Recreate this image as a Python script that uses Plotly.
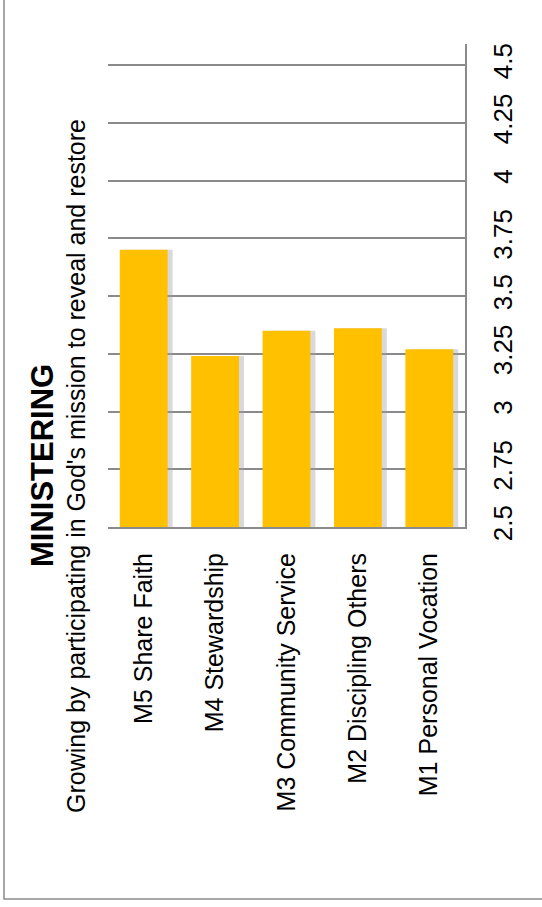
import plotly.graph_objects as go

# Ministering scores by component
categories = [
    "M5 Share Faith",
    "M4 Stewardship",
    "M3 Community Service",
    "M2 Discipling Others",
    "M1 Personal Vocation",
]
scores = [3.70, 3.24, 3.35, 3.36, 3.27]
tick_values = [2.5, 2.75, 3, 3.25, 3.5, 3.75, 4, 4.25, 4.5]
tick_labels = ["2.5", "2.75", "3", "3.25", "3.5", "3.75", "4", "4.25", "4.5"]

title_text = "MINISTERING"
subtitle_text = "Growing by participating in God's mission to reveal and restore"

FONT = "Liberation Sans, Arial, Helvetica, sans-serif"
BAR_COLOR = "#FFC000"
LINE_COLOR = "#8a8a8a"

W, H = 542, 907
L, R, T, B = 108, 77, 44, 380
plot_w = W - L - R
plot_h = H - T - B


def px_x(px):
    return (px - L) / plot_w


def px_y(py):
    return (H - B - py) / plot_h


bar_w = 0.67

fig = go.Figure()

# soft drop shadow on the right of each column
fig.add_trace(go.Bar(
    x=categories, y=scores,
    width=bar_w, offset=-bar_w / 2 + 0.07,
    marker=dict(color="rgba(160,160,170,0.4)", line=dict(width=0)),
    hoverinfo="skip", showlegend=False,
))
fig.add_trace(go.Bar(
    x=categories, y=scores,
    width=bar_w, offset=-bar_w / 2,
    marker=dict(color=BAR_COLOR, line=dict(width=0)),
    showlegend=False,
))

fig.update_layout(
    width=W, height=H,
    margin=dict(l=L, r=R, t=T, b=B, pad=0),
    paper_bgcolor="white",
    plot_bgcolor="white",
    barmode="overlay",
    font=dict(family=FONT, size=25, color="black"),
    showlegend=False,
)

fig.update_xaxes(
    type="category",
    categoryorder="array", categoryarray=categories,
    tickangle=-90,
    tickfont=dict(family=FONT, size=25, color="black"),
    showline=True, linecolor=LINE_COLOR, linewidth=2,
    showgrid=False, ticks="",
    ticklabelstandoff=14,
    fixedrange=True,
)

fig.update_yaxes(
    side="right",
    range=[2.5, 2.5 + plot_h / 231.0],
    tickmode="array", tickvals=tick_values, ticktext=tick_labels,
    tickangle=-90,
    tickfont=dict(family=FONT, size=26, color="black"),
    showline=True, linecolor=LINE_COLOR, linewidth=2,
    showgrid=True, gridcolor=LINE_COLOR, gridwidth=2,
    zeroline=False, ticks="",
    ticklabelstandoff=14,
    fixedrange=True,
)

# outer chart frame
fig.add_shape(
    type="rect", xref="paper", yref="paper",
    x0=px_x(4), x1=px_x(W + 10), y0=px_y(899), y1=px_y(-10),
    line=dict(color=LINE_COLOR, width=1.5), fillcolor="rgba(0,0,0,0)",
    layer="below",
)

fig.add_annotation(
    text="<b>" + title_text + "</b>",
    xref="paper", yref="paper",
    x=px_x(42), y=px_y(466),
    xanchor="center", yanchor="middle",
    textangle=-90, showarrow=False,
    font=dict(family=FONT, size=31, color="black"),
)
fig.add_annotation(
    text=subtitle_text,
    xref="paper", yref="paper",
    x=px_x(76), y=px_y(466),
    xanchor="center", yanchor="middle",
    textangle=-90, showarrow=False,
    font=dict(family=FONT, size=25, color="black"),
)

fig.write_html("out.html")
